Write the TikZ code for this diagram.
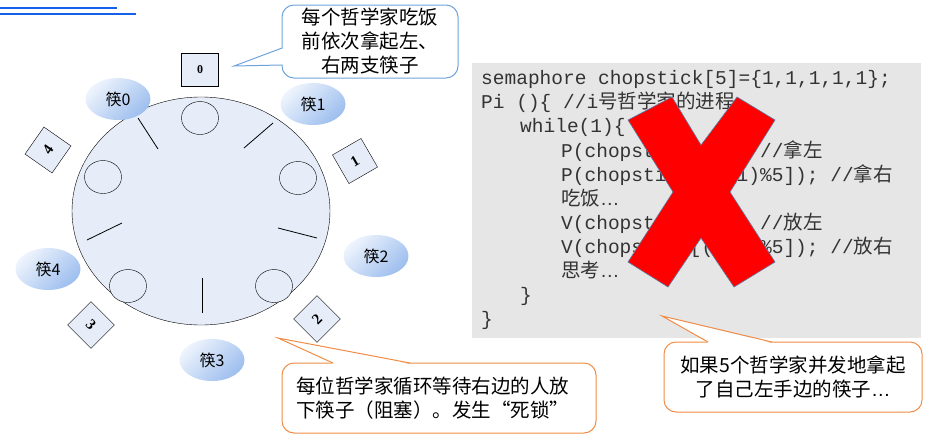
\documentclass[tikz,border=0pt]{standalone}
\usepackage{fontspec}
\setmainfont{Noto Sans CJK SC}
\newfontfamily\zhfont{Noto Sans CJK SC}
\newfontfamily\codefont{Liberation Mono}
\newfontfamily\latfont{Liberation Sans}
\newfontfamily\numfont{Liberation Serif}
\usetikzlibrary{shapes.geometric,positioning}
\newcommand{\zh}[1]{{\zhfont #1}}
\definecolor{tablefill}{HTML}{E6EDF8}
\definecolor{chopL}{HTML}{EEF4FD}
\definecolor{chopR}{HTML}{9DBEEE}
\definecolor{noteblue}{HTML}{6FA3DC}
\definecolor{noteorange}{HTML}{F08C46}
\definecolor{codegray}{HTML}{E6E6E6}
\definecolor{linkblue}{HTML}{1560E8}
\definecolor{xedge}{HTML}{5B7DA6}
\tikzset{
  plate/.style={ellipse, draw, fill=tablefill, minimum width=37pt, minimum height=33pt, inner sep=0pt},
  chop/.style={ellipse, left color=chopL, right color=chopR, shading angle=45,
    minimum width=65pt, minimum height=42pt, inner sep=0pt, font=\fontsize{16}{16}\selectfont},
  seat/.style={draw, fill=tablefill, minimum width=33pt, minimum height=33pt, inner sep=0pt,
    font=\numfont\bfseries\fontsize{15}{15}\selectfont},
  stick/.style={line width=0.8pt},
  codeline/.style={anchor=base west, inner sep=0pt, text=black!80, font=\codefont\fontsize{19.5}{24}\selectfont},
  note/.style={draw=#1, line width=1pt, fill=white, rounded corners=12pt,
    font=\fontsize{19.5}{24}\selectfont},
}

\begin{document}
\begin{tikzpicture}[x=1pt, y=-1pt]
\useasboundingbox (0,0) rectangle (934,440);

% heading rule
\draw[linkblue, line width=2.4pt] (0,8) -- (117,8);
\draw[linkblue, line width=2.4pt] (0,14) -- (136,14);

% table and plates
\node[ellipse, draw, fill=tablefill, minimum width=258pt, minimum height=228pt] (table) at (201,211) {};
\node[plate] (p0) at (200,118) {};
\node[plate] (p1) at (298,178) {};
\node[plate] (p2) at (274,286) {};
\node[plate] (p3) at (128,286) {};
\node[plate] (p4) at (103,177) {};

% chopsticks on the table
\draw[stick] (138,118) -- (158,149);
\draw[stick] (273,123) -- (244,148);
\draw[stick] (278,228) -- (317,238);
\draw[stick] (202,278) -- (202,313);
\draw[stick] (87,240) -- (122,223);

% philosophers
\node[seat, minimum width=37pt, font=\numfont\bfseries\fontsize{12}{12}\selectfont] (s0) at (200,70) {0};
\node[seat, rotate=30] (s1) at (355,161) {1};
\node[seat, rotate=45] (s2) at (317,319) {2};
\node[seat, rotate=-45] (s3) at (91,325) {3};
\node[seat, rotate=55] (s4) at (48,150) {4};

% chopstick labels
\node[chop] (k0) at (118,99) {筷0};
\node[chop] (k1) at (313,104) {筷1};
\node[chop] (k2) at (376,256) {筷2};
\node[chop] (k3) at (212,360) {筷3};
\node[chop] (k4) at (48,269) {筷4};

% code
\node[fill=codegray, anchor=north west, minimum width=449pt, minimum height=275pt, inner sep=0pt] (code) at (472,63) {};
\node[codeline] (c1) at (481,84) {semaphore chopstick[5]=\{1,1,1,1,1\};};
\node[codeline] (c2) at (481,108) {Pi ()\{ //i\zh{号哲学家的进程}};
\node[codeline] (c3) at (520,132) {while(1)\{};
\node[codeline] (c4) at (561,157) {P(chopstick[i]); //\zh{拿左}};
\node[codeline] (c5) at (561,181) {P(chopstick[(i+1)\%5]); //\zh{拿右}};
\node[codeline] (c6) at (561,205) {\zh{吃饭}{\latfont …}};
\node[codeline] (c7) at (561,229) {V(chopstick[i]); //\zh{放左}};
\node[codeline] (c8) at (561,253) {V(chopstick[(i+1)\%5]); //\zh{放右}};
\node[codeline] (c9) at (561,277) {\zh{思考}{\latfont …}};
\node[codeline] (c10) at (520,301) {\}};
\node[codeline] (c11) at (481,325) {\}};

% cross
\filldraw[fill=red, draw=xedge, line width=0.6pt]
  (628,120) -- (672,97) -- (701,145) -- (737,97) -- (775,120) -- (730,192)
  -- (775,262) -- (734,287) -- (701,238) -- (668,287) -- (628,262) -- (673,192) -- cycle;

% notes
\node[note=noteblue, minimum width=176pt, minimum height=73pt, align=center] (note0) at (370,41.5)
  {每个哲学家吃饭\\前依次拿起左、\\右两支筷子};
\coordinate (tip0) at (234,66);
\fill[white] (283,48.5) -- (tip0) -- (283,64.5) -- cycle;
\draw[noteblue, line width=1pt] (282,48) -- (tip0) -- (282,65);

\node[note=noteorange, minimum width=314pt, minimum height=70pt, inner xsep=14pt, text width=286pt, align=left] (note1) at (439,398)
  {每位哲学家循环等待右边的人放\\下筷子（阻塞）。发生“死锁”};
\coordinate (tip1) at (278,338);
\fill[white] (333.5,364) -- (tip1) -- (409.5,364) -- cycle;
\draw[noteorange, line width=1pt] (333,363) -- (tip1) -- (410,363);

\node[note=noteorange, minimum width=258pt, minimum height=70pt, align=center] (note2) at (793,377)
  {如果5个哲学家并发地拿起\\了自己左手边的筷子{\latfont …}};
\coordinate (tip2) at (662,316);
\fill[white] (708.5,343) -- (tip2) -- (771.5,343) -- cycle;
\draw[noteorange, line width=1pt] (708,342) -- (tip2) -- (772,342);

\end{tikzpicture}
\end{document}
